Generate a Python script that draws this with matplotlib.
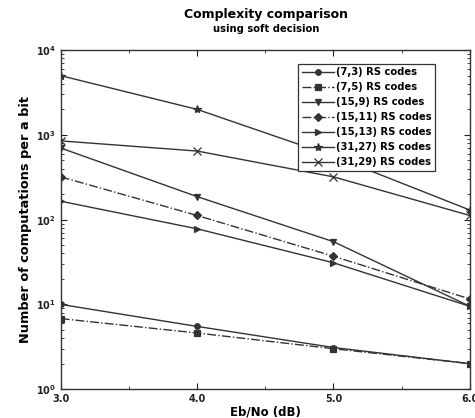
import numpy as np
import matplotlib
matplotlib.use("Agg")
import matplotlib.pyplot as plt
from matplotlib.ticker import FixedLocator, NullFormatter, LogLocator

# ── data ──
ebno = [3.0, 4.0, 5.0, 6.0]
rs_7_3 = [10.0, 5.5, 3.1, 2.0]
rs_7_5 = [6.8, 4.6, 3.0, 2.0]
rs_15_9 = [700, 187, 55, 9.5]
rs_15_11 = [320, 112, 37, 11.6]
rs_15_13 = [165, 78, 31, 9.5]
rs_31_27 = [5000, 2000, 560, 130]
rs_31_29 = [850, 645, 320, 112]

labels = ["(7,3) RS codes", "(7,5) RS codes", "(15,9) RS codes",
          "(15,11) RS codes", "(15,13) RS codes", "(31,27) RS codes",
          "(31,29) RS codes"]
series = [rs_7_3, rs_7_5, rs_15_9, rs_15_11, rs_15_13, rs_31_27, rs_31_29]
styles = [("o", "-"), ("s", "-."), ("v", "-"), ("D", "-."),
          (">", "-"), ("*", "-"), ("x", "-")]

plt.rcParams["font.family"] = ["DejaVu Sans"]
plt.rcParams["font.weight"] = "bold"

fig = plt.figure(figsize=(4.75, 4.18), dpi=100, facecolor="white")
ax = fig.add_axes([0.128, 0.069, 0.861, 0.811])

col = "#333333"
for y, lbl, (mk, ls) in zip(series, labels, styles):
    ms = 6 if mk in ("*", "x") else 4
    ax.plot(ebno, y, linestyle=ls, marker=mk, color=col, lw=1.0,
            markersize=ms, markerfacecolor=col, markeredgewidth=0.9,
            label=lbl)

ax.set_yscale("log")
ax.set_xlim(3.0, 6.0)
ax.set_ylim(1, 1e4)
ax.set_xticks([3, 4, 5, 6])
ax.set_xticklabels(["3.0", "4.0", "5.0", "6.0"])
ax.xaxis.set_minor_locator(FixedLocator([3.5, 4.5, 5.5]))
ax.yaxis.set_major_locator(FixedLocator([1, 10, 100, 1000, 10000]))
ax.set_yticklabels([r"$\mathbf{10^0}$", r"$\mathbf{10^1}$", r"$\mathbf{10^2}$",
                    r"$\mathbf{10^3}$", r"$\mathbf{10^4}$"])
ax.yaxis.set_minor_locator(LogLocator(base=10, subs=np.arange(2, 10)))
ax.yaxis.set_minor_formatter(NullFormatter())
ax.tick_params(which="both", direction="in", top=True, right=True,
               labelsize=7, colors="#222222")
ax.tick_params(which="major", length=4, width=0.8)
ax.tick_params(which="minor", length=2, width=0.6)
for sp in ax.spines.values():
    sp.set_color("#333333")
    sp.set_linewidth(1.0)

ax.set_xlabel("Eb/No (dB)", fontsize=8.5, fontweight="bold", labelpad=1)
ax.set_ylabel("Number of computations per a bit", fontsize=9.3,
              fontweight="bold", labelpad=3)

fig.text(0.56, 0.966, "Complexity comparison", ha="center", va="center",
         fontsize=9, fontweight="bold")
fig.text(0.56, 0.93, "using soft decision", ha="center", va="center",
         fontsize=7.2, fontweight="bold")

leg = ax.legend(loc="upper left", bbox_to_anchor=(0.58, 0.96),
                fontsize=7.2, frameon=True, fancybox=False, handlelength=3.2,
                labelspacing=0.5, borderpad=0.35, handletextpad=0.2,
                borderaxespad=0)
leg.set_zorder(10)
leg.get_frame().set_edgecolor("#333333")
leg.get_frame().set_linewidth(0.9)
leg.get_frame().set_alpha(1)

fig.savefig("out.png", dpi=100, facecolor="white")
